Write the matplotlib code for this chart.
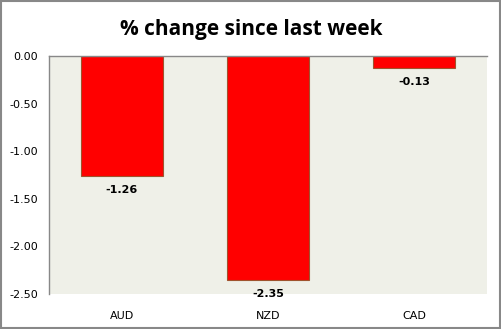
import matplotlib
matplotlib.use("Agg")
import matplotlib.pyplot as plt
from matplotlib.patches import Rectangle

# weekly % change per currency
currencies = ["AUD", "NZD", "CAD"]
changes = [-1.26, -2.35, -0.13]
yticks = [0.0, -0.5, -1.0, -1.5, -2.0, -2.5]

fig = plt.figure(figsize=(5.02, 3.29), dpi=100)
ax = fig.add_axes([0.0976, 0.1064, 0.8725, 0.7234])
ax.set_facecolor("#eff0e8")

x = range(len(currencies))
ax.bar(x, changes, width=0.56, color="#ff0000", edgecolor="#a0522d", linewidth=0.8)

for i, v in zip(x, changes):
    ax.annotate(f"{v:.2f}", (i, v), xytext=(0, -10), textcoords="offset points",
                ha="center", va="center", fontsize=8, fontweight="bold",
                family="DejaVu Sans")

ax.set_xlim(-0.5, 2.5)
ax.set_ylim(-2.5, 0)
ax.set_yticks(yticks)
ax.set_yticklabels([f"{t:.2f}" for t in yticks])
ax.set_xticks(list(x))
ax.set_xticklabels(currencies)
ax.tick_params(axis="both", length=0, labelsize=8, colors="black")
ax.tick_params(axis="y", pad=8)
ax.tick_params(axis="x", pad=12)

for s in ["right", "bottom"]:
    ax.spines[s].set_visible(False)
for s in ["top", "left"]:
    ax.spines[s].set_color("#888888")
    ax.spines[s].set_linewidth(1)

fig.text(0.5, 0.91, "% change since last week", ha="center", va="center",
         fontsize=15, fontweight="bold", family="Open Sans")

fig.patches.append(Rectangle((0.002, 0.003), 0.995, 0.994, transform=fig.transFigure,
                             fill=False, edgecolor="#888888", linewidth=1.5))

fig.savefig("out.png", dpi=100)
